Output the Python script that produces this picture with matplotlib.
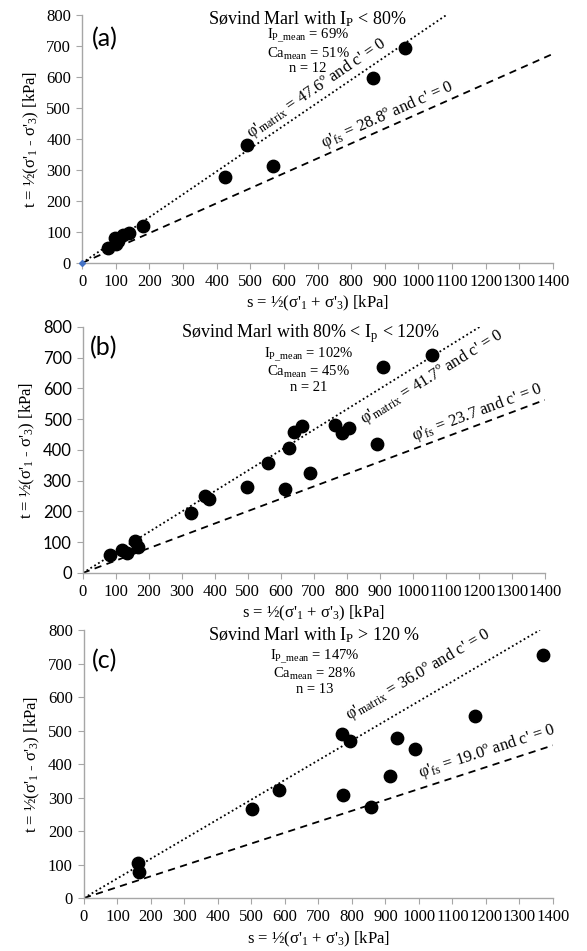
import numpy as np
import matplotlib
matplotlib.use('Agg')
import matplotlib.pyplot as plt

plt.rcParams['font.family'] = 'serif'
plt.rcParams['font.serif'] = ['Liberation Serif', 'DejaVu Serif']
plt.rcParams['mathtext.fontset'] = 'custom'
plt.rcParams['mathtext.rm'] = 'Liberation Serif'
plt.rcParams['mathtext.it'] = 'Liberation Serif:italic'
plt.rcParams['mathtext.default'] = 'rm'

# donnees (s, t en kPa)
a_s = [76, 97, 100, 108, 120, 138, 180, 425, 489, 566, 865, 959]
a_t = [47, 80, 60, 72, 90, 97, 120, 277, 382, 312, 597, 693]

b_s = [84, 119, 133, 157, 168, 329, 371, 383, 497, 562, 612, 626, 641, 665,
       690, 765, 786, 807, 892, 910, 1058]
b_t = [59, 75, 66, 105, 84, 194, 250, 240, 280, 359, 274, 407, 460, 477,
       326, 481, 454, 472, 420, 670, 709]

c_s = [161, 163, 501, 581, 771, 795, 772, 857, 914, 935, 987, 1168, 1369]
c_t = [105, 79, 267, 322, 490, 470, 307, 273, 364, 479, 445, 544, 726]

s_ticks = list(range(0, 1401, 100))
t_ticks = list(range(0, 801, 100))

panel_labels = ['(a)', '(b)', '(c)']
titles = ['Søvind Marl with I$_{P}$ < 80%',
          'Søvind Marl with 80% < I$_{p}$ < 120%',
          'Søvind Marl with I$_{P}$ > 120 %']
ip_mean = ['69%', '102%', '147%']
ca_mean = ['51%', '45%', '28%']
n_tests = ['12', '21', '13']
phi_matrix = [47.6, 41.7, 36.0]
phi_fs = [28.8, 23.7, 19.0]
matrix_labels = ["φ'$_{matrix}$ = 47.6º and c' = 0",
                 "φ'$_{matrix}$ = 41.7º and c' = 0",
                 "φ'$_{matrix}$ = 36.0º and c' = 0"]
fs_labels = ["φ'$_{fs}$ = 28.8º and c' = 0",
             "φ'$_{fs}$ = 23.7 and c' = 0",
             "φ'$_{fs}$ = 19.0º and c' = 0"]

# positions des axes [left, bottom, width, height] en fraction de figure
positions = [[0.140, 0.7235, 0.802, 0.2608],
             [0.141, 0.3975, 0.787, 0.2587],
             [0.143, 0.0557, 0.799, 0.2818]]
# positions des textes (s, t)
title_pos = [(669, 788), (690, 780), (688, 786)]
stats_pos = [(672, 762), (684, 740), (688, 748)]
letter_pos = [(30, 722), (21, 732), (24, 710)]
matrix_txt_s = [510, 830, 800]
matrix_txt_dy = [10, -30, 45]
fs_txt_s = [725, 1010, 1010]
fs_txt_dy = [6, 8, 14]

data_s = [a_s, b_s, c_s]
data_t = [a_t, b_t, c_t]

fig = plt.figure(figsize=(5.87, 9.51), dpi=100)
gray = '#a6a6a6'
serif = ['Liberation Serif', 'DejaVu Serif']
sans = ['Lato', 'DejaVu Sans']

for i in range(3):
    ax = fig.add_axes(positions[i])
    sm = np.sin(np.radians(phi_matrix[i]))
    sf = np.sin(np.radians(phi_fs[i]))

    # droites de rupture (c' = 0)
    s_end = 800 / sm
    ax.plot([0, s_end], [0, 800], color='black', linestyle=(0, (1, 1.5)), linewidth=1.3)
    ax.plot([0, 1400], [0, 1400 * sf], color='black', linestyle=(0, (4, 3)), linewidth=1.3)
    ax.scatter(data_s[i], data_t[i], s=80, color='black', zorder=3, clip_on=False)
    if i == 0:
        ax.plot([0], [0], marker='D', color='#4472c4', markersize=3, clip_on=False, zorder=4)

    ang_m = np.degrees(np.arctan(sm))
    ang_f = np.degrees(np.arctan(sf))
    xm = matrix_txt_s[i]
    ax.text(xm, xm * sm + matrix_txt_dy[i], matrix_labels[i], rotation=ang_m,
            transform_rotates_text=True, rotation_mode='anchor',
            ha='left', va='bottom' if matrix_txt_dy[i] > 0 else 'top', fontsize=12)
    xf = fs_txt_s[i]
    ax.text(xf, xf * sf + fs_txt_dy[i], fs_labels[i], rotation=ang_f,
            transform_rotates_text=True, rotation_mode='anchor',
            ha='left', va='bottom', fontsize=12)

    ax.text(title_pos[i][0], title_pos[i][1], titles[i], ha='center', va='center', fontsize=13)
    stats = 'I$_{P\\_mean}$ = ' + ip_mean[i] + '\nCa$_{mean}$ = ' + ca_mean[i] + '\nn = ' + n_tests[i]
    ax.text(stats_pos[i][0], stats_pos[i][1], stats, ha='center', va='top',
            fontsize=10.5, linespacing=1.05)
    ax.text(letter_pos[i][0], letter_pos[i][1], panel_labels[i], ha='left', va='center',
            fontsize=18, family=sans)

    ax.set_xlim(0, 1400)
    ax.set_ylim(0, 800)
    ax.set_xticks(s_ticks, labels=[str(v) for v in s_ticks], fontfamily=serif, fontsize=12)
    if i == 1:
        ax.set_yticks(t_ticks, labels=[str(v) for v in t_ticks], fontfamily=sans, fontsize=12)
    else:
        ax.set_yticks(t_ticks, labels=[str(v) for v in t_ticks], fontfamily=serif, fontsize=12)
    for side in ['top', 'right']:
        ax.spines[side].set_visible(False)
    for side in ['left', 'bottom']:
        ax.spines[side].set_color(gray)
        ax.spines[side].set_linewidth(1.0)
    ax.tick_params(axis='both', direction='out', color=gray, length=4, pad=4)

    ax.set_xlabel("s = ½(σ'$_{1}$ + σ'$_{3}$) [kPa]", fontsize=12, labelpad=3)
    ax.set_ylabel("t = ½(σ'$_{1}$ - σ'$_{3}$) [kPa]", fontsize=12, labelpad=4)

plt.savefig('out.png', dpi=100)
